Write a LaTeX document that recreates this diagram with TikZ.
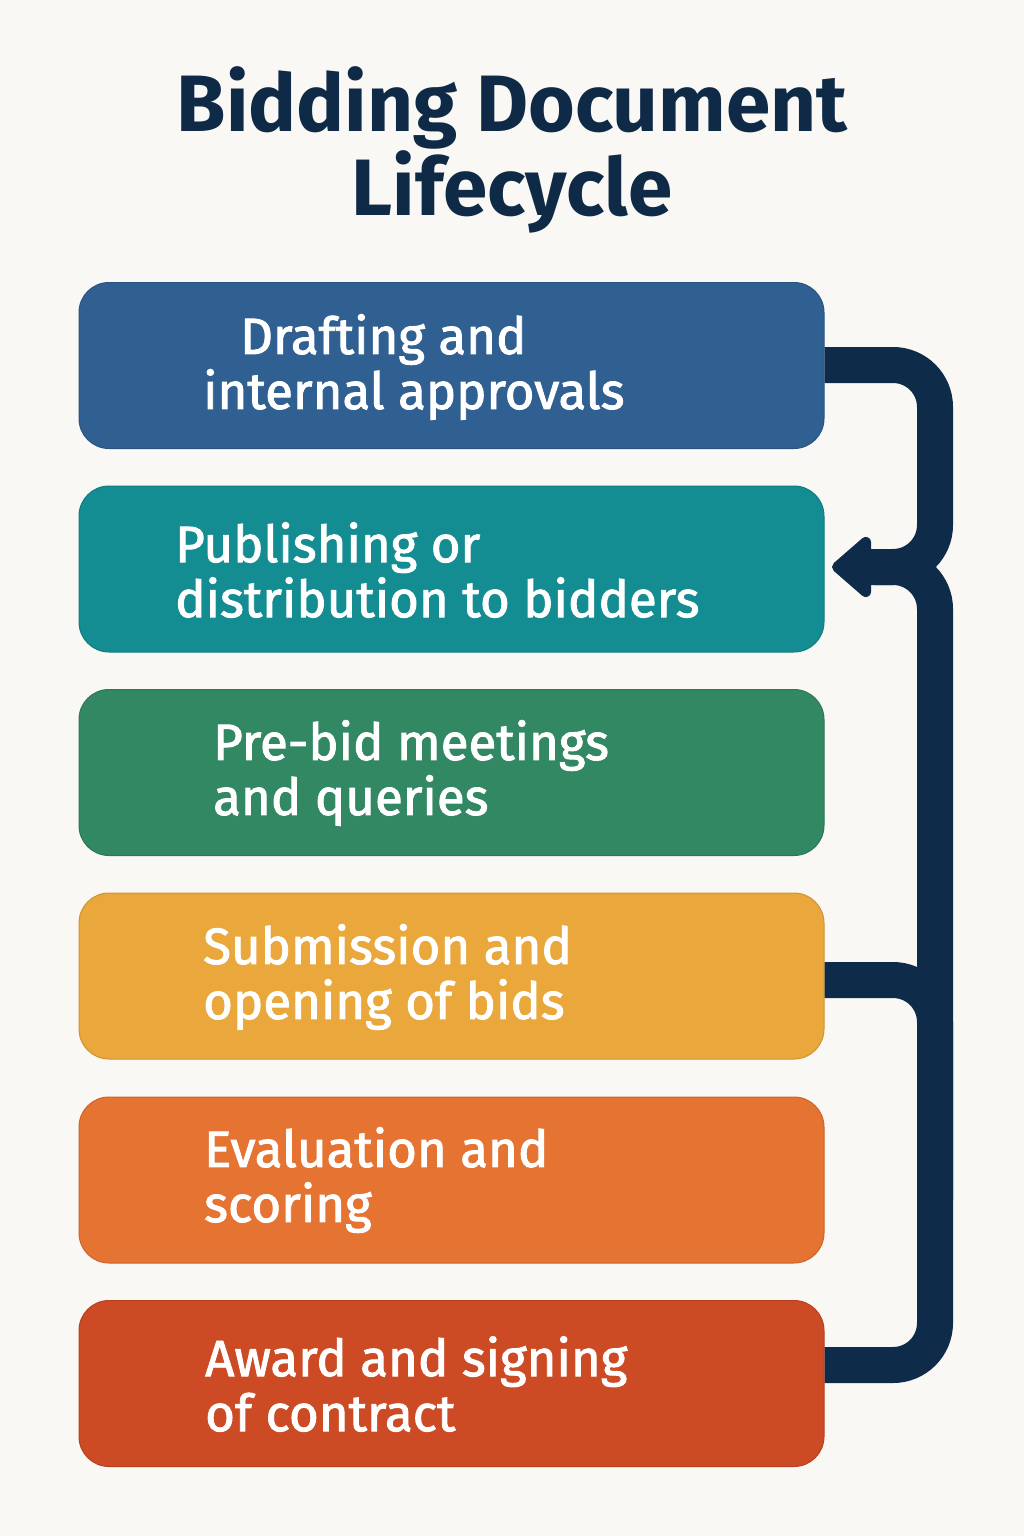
\documentclass[tikz,border=0pt]{standalone}
\usepackage{fontspec}
\setmainfont{Fira Sans}
\newfontfamily\boxfont[FakeBold=1.8]{Fira Sans}
\usetikzlibrary{arrows.meta}
\definecolor{bgc}{HTML}{FAF8F5}
\definecolor{navy}{HTML}{0E2B4A}
\definecolor{titlec}{HTML}{0F2A47}
\definecolor{cA}{HTML}{305F91}
\definecolor{cB}{HTML}{138D92}
\definecolor{cC}{HTML}{318862}
\definecolor{cD}{HTML}{E9A73C}
\definecolor{cE}{HTML}{E57332}
\definecolor{cF}{HTML}{CC4B24}
\tikzset{
  stagebox/.style={rectangle, rounded corners=30pt, minimum width=745pt, minimum height=166pt, inner sep=0pt, line width=1pt},
  stagetext/.style={anchor=west, align=left, inner sep=0pt, text=white, font=\boxfont\fontsize{51}{55}\selectfont},
  link/.style={draw=navy, line width=36pt, rounded corners=42pt},
}
\begin{document}
\begin{tikzpicture}[x=1pt,y=-1pt]
\fill[bgc] (0,0) rectangle (1024,1536);
\useasboundingbox (0,0) rectangle (1024,1536);
\node[align=center, text=titlec, font=\bfseries\fontsize{80}{82}\selectfont] (title) at (512,150) {Bidding Document\\Lifecycle};
\node[stagebox, fill=cA, draw=cA!88!black] (b1) at (451.5,365.5) {};
\node[stagebox, fill=cB, draw=cB!88!black] (b2) at (451.5,569) {};
\node[stagebox, fill=cC, draw=cC!88!black] (b3) at (451.5,772.5) {};
\node[stagebox, fill=cD, draw=cD!88!black] (b4) at (451.5,976) {};
\node[stagebox, fill=cE, draw=cE!88!black] (b5) at (451.5,1180) {};
\node[stagebox, fill=cF, draw=cF!88!black] (b6) at (451.5,1383.5) {};
\node[stagetext] (t1) at (203,367) {\hspace*{37pt}Drafting and\\internal approvals};
\node[stagetext] (t2) at (175,570) {Publishing or\\distribution to bidders};
\node[stagetext] (t3) at (213,773) {Pre-bid meetings\\and queries};
\node[stagetext] (t4) at (203,977) {Submission and\\opening of bids};
\node[stagetext] (t5) at (204,1180) {Evaluation and\\scoring};
\node[stagetext] (t6) at (205,1384) {Award and signing\\of contract};
\coordinate (tip) at (832,567);
\coordinate (back) at (874,567);
\path[link] (b4.east |- 0,980) -- (935,980) -- (935,1200);
\path[link] (b6.east |- 0,1365) -- (935,1365) -- (935,567) -- (back);
\path[link, -{Triangle[length=42pt,width=70pt,round]}] (b1.east |- 0,365) -- (935,365) -- (935,567) -- (tip);
\end{tikzpicture}
\end{document}
